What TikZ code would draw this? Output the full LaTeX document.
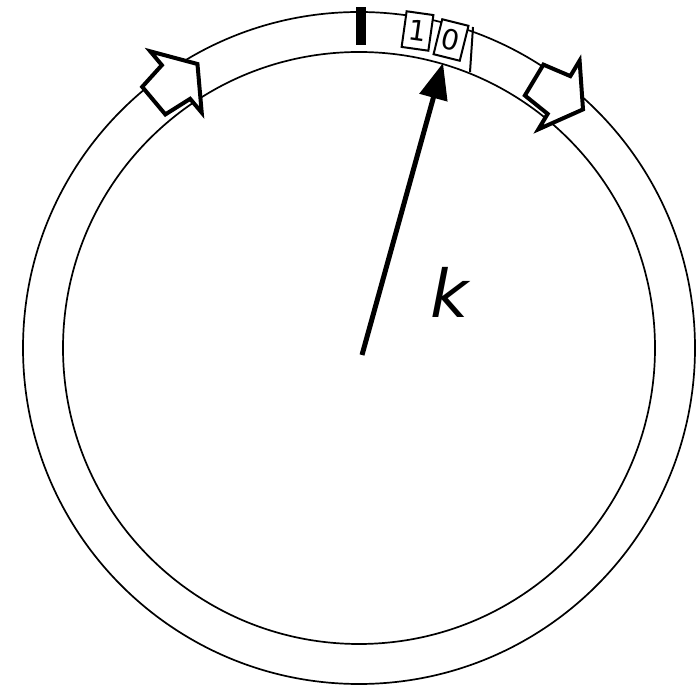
\documentclass[tikz,border=0pt]{standalone}
\usepackage{fontspec}
\setmainfont{DejaVu Sans}
\usetikzlibrary{arrows.meta}
\begin{document}
\begin{tikzpicture}[x=1pt,y=1pt,
  ringline/.style={line width=1.7pt},
  blockarrow/.style={draw, line width=4pt, fill=white, line join=miter},
  cell/.style={draw, line width=2pt, fill=white, minimum width=27pt, minimum height=36pt, inner sep=0pt, font=\fontsize{28}{28}\selectfont},
  pointer/.style={line width=5pt, -{Triangle[length=36pt,width=28pt]}}]
\useasboundingbox (0,0) rectangle (699,685);
\coordinate (c) at (359,337);
\draw[ringline] (c) circle[radius=336];
\draw[ringline] (c) circle[radius=296];
\node[fill=black, minimum width=10pt, minimum height=38pt, inner sep=0pt] (bar) at (361,659) {};
\begin{scope}[shift={(176,603)}, rotate=40]
  \draw[blockarrow] (-29,18) -- (0,22) -- (0,40) -- (28,0) -- (0,-40) -- (0,-22) -- (-29,-18) -- cycle;
\end{scope}
\begin{scope}[shift={(559,590)}, rotate=-31]
  \draw[blockarrow] (-29,18) -- (0,22) -- (0,40) -- (28,0) -- (0,-40) -- (0,-22) -- (-29,-18) -- cycle;
\end{scope}
\node[cell, rotate=-8] (b1) at (417.5,654) {1};
\node[cell, rotate=-14] (b0) at (451,645) {0};
\coordinate (s1) at (473,658);
\coordinate (s2) at (470,613);
\draw[line width=2pt] (s1) -- (s2);
\coordinate (o) at (362,330);
\coordinate (t) at (443,622);
\draw[pointer] (o) -- (t);
\node (k) at (450,393) {\fontsize{66}{66}\selectfont\itshape k};
\end{tikzpicture}
\end{document}
